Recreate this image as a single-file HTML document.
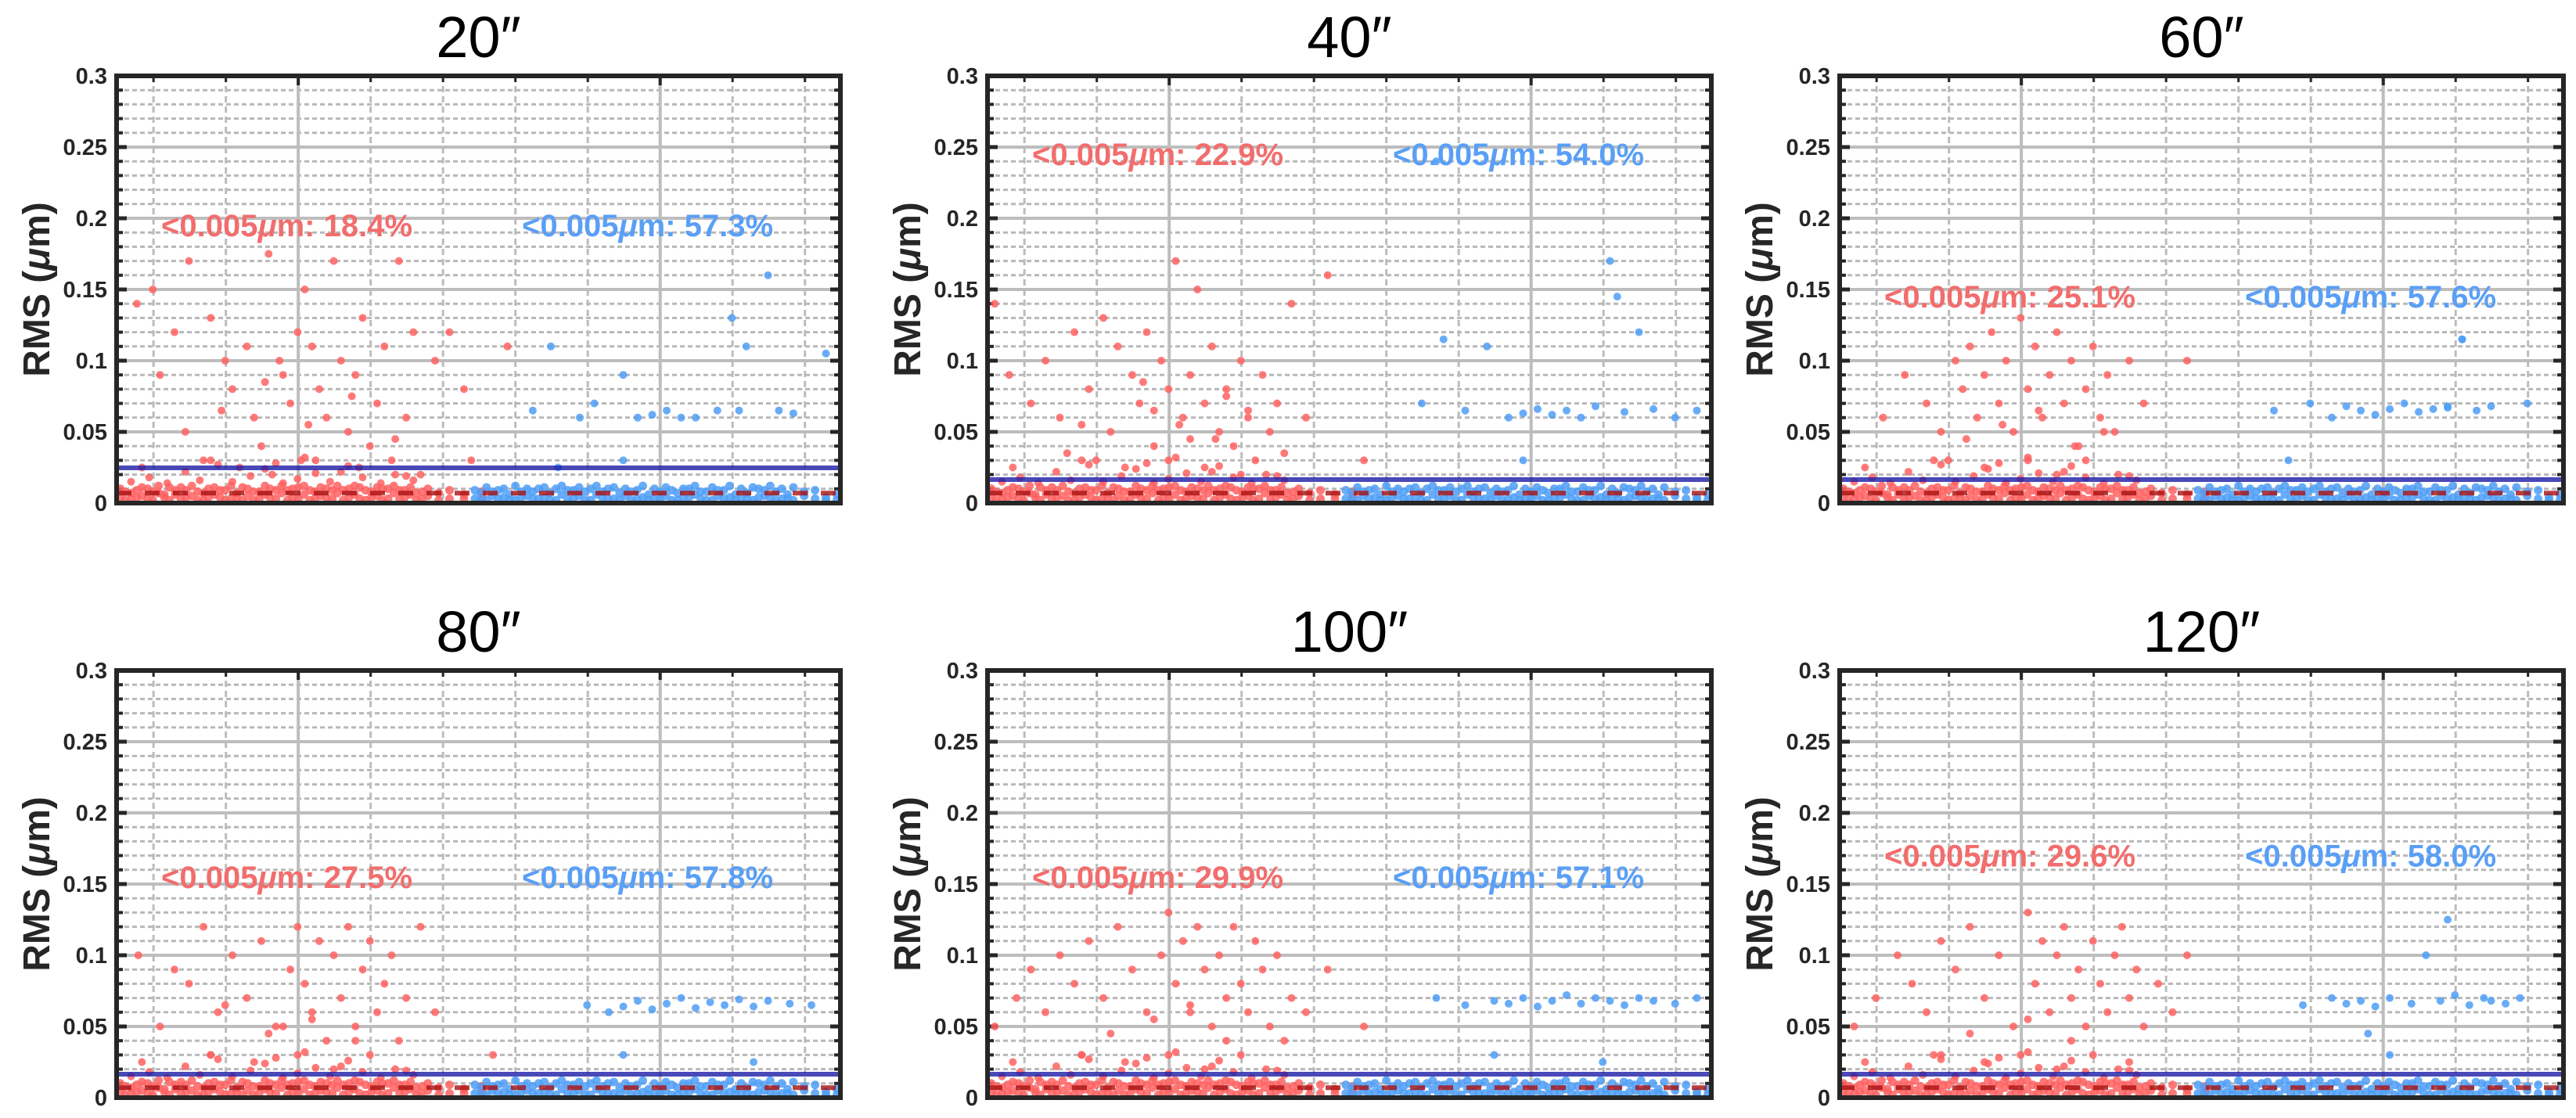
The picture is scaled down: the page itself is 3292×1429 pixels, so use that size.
<!DOCTYPE html>
<html><head><meta charset="utf-8"><style>
html,body{margin:0;padding:0;background:#fff;}
svg{display:block;font-family:"Liberation Sans",Arial,sans-serif;}
</style></head><body>
<svg id="chart" width="3292" height="1429" viewBox="0 0 3292 1429" xmlns="http://www.w3.org/2000/svg"></svg>
<script>
// ---- shared data ----
const panelTitles = ["20\u2033","40\u2033","60\u2033","80\u2033","100\u2033","120\u2033"];
const redPct = ["18.4%","22.9%","25.1%","27.5%","29.9%","29.6%"];
const bluePct = ["57.3%","54.0%","57.6%","57.8%","57.1%","58.0%"];
const annotY = [0.195,0.245,0.145,0.155,0.155,0.17];
const blueLineVal = [0.0247,0.0165,0.0165,0.0165,0.0165,0.0165];
const redLineVal = [0.007,0.007,0.007,0.007,0.007,0.007];
const yTicks = [0,0.05,0.1,0.15,0.2,0.25,0.3];
const yTickLabels = ["0","0.05","0.1","0.15","0.2","0.25","0.3"];
const xMinorGrid = [51,151,251,351,451,551,651,751,851,951];
const xMajorGrid = [251,751];

const redBandX = [5,12,20,28,35,43,50,58,66,73,81,89,96,104,112,120,127,135,143,150,158,166,174,181,189,197,205,212,220,228,236,243,251,259,267,274,282,290,298,305,313,321,329,336,344,352,360,367,375,383,391,398,406,414,422,430,445,460,480,505];
const redBandYa = [0.004,0.008,0.003,0.009,0.005,0.010,0.002,0.007,0.004,0.011,0.006,0.003,0.009,0.005,0.008,0.002,0.010,0.006,0.004,0.009,0.003,0.007,0.011,0.005,0.002,0.008,0.006,0.010,0.003,0.007,0.009,0.004,0.011,0.006,0.002,0.008,0.005,0.010,0.003,0.007,0.009,0.004,0.006,0.011,0.002,0.008,0.005,0.010,0.003,0.007,0.009,0.004,0.006,0.002,0.008,0.005,0.007,0.003,0.006,0.004];
const redBandYb = [0.010,0.002,0.007,0.004,0.011,0.003,0.008,0.012,0.006,0.002,0.009,0.011,0.004,0.012,0.002,0.007,0.004,0.011,0.009,0.002,0.012,0.004,0.002,0.010,0.008,0.003,0.012,0.004,0.009,0.012,0.002,0.010,0.003,0.012,0.009,0.003,0.011,0.004,0.009,0.012,0.002,0.010,0.012,0.003,0.009,0.004,0.011,0.002,0.010,0.012,0.003,0.009,0.011,0.007,0.003,0.010,0.002,0.009,0.003,0.008];
const redLowX = [20,45,70,95,115,140,160,185,205,230,250,275,295,320,340,365,385,410,35,130,220,310,400,260];
const redLowY = [0.015,0.018,0.014,0.022,0.016,0.027,0.015,0.019,0.024,0.014,0.017,0.021,0.015,0.026,0.018,0.014,0.02,0.016,0.025,0.03,0.028,0.022,0.019,0.032];
const blueBandX = [495,503,511,519,527,535,543,551,559,567,575,583,591,599,607,615,623,631,639,647,655,663,671,679,687,695,703,711,719,727,735,743,751,759,767,775,783,791,799,807,815,823,831,839,847,855,863,871,879,887,895,903,911,919,927,935,950,965,980,995];
const blueBandYa = [0.003,0.007,0.002,0.005,0.009,0.004,0.006,0.002,0.008,0.005,0.003,0.010,0.004,0.007,0.002,0.006,0.009,0.003,0.005,0.008,0.002,0.006,0.004,0.010,0.003,0.007,0.005,0.002,0.009,0.004,0.006,0.003,0.008,0.005,0.002,0.007,0.010,0.004,0.006,0.003,0.008,0.002,0.005,0.009,0.004,0.006,0.003,0.007,0.002,0.010,0.005,0.004,0.008,0.003,0.006,0.002,0.005,0.003,0.004,0.002];
const blueBandYb = [0.009,0.002,0.011,0.008,0.003,0.010,0.002,0.012,0.004,0.010,0.008,0.003,0.011,0.002,0.010,0.012,0.003,0.009,0.011,0.002,0.010,0.012,0.008,0.003,0.011,0.002,0.010,0.008,0.003,0.012,0.002,0.010,0.003,0.011,0.009,0.002,0.004,0.010,0.012,0.008,0.002,0.011,0.009,0.003,0.012,0.002,0.010,0.003,0.011,0.004,0.009,0.012,0.002,0.010,0.003,0.011,0.008,0.009,0.002,0.006];

// ---- per-panel outliers ----
const redOutX = [
 [28,50,60,80,95,100,130,150,160,180,190,200,210,225,230,240,250,255,260,270,280,290,300,310,320,330,340,350,360,370,380,390,400,410,420,440,460,480,490,540,120,170,215,275,335,145,205,265,325,385],
 [10,30,60,80,100,120,140,160,170,180,200,210,220,230,240,250,260,270,280,290,300,310,320,330,340,350,360,370,380,390,400,420,440,470,520,150,190,250,300,350,130,230,280,330,110,215,265,315,360,410],
 [60,90,120,140,160,170,180,190,200,210,220,230,240,250,260,270,280,290,300,310,320,330,340,350,360,370,380,400,420,480,150,200,260,300,340,175,225,275,325,365],
 [30,60,80,100,120,140,160,180,200,220,240,250,260,270,280,290,300,310,320,330,340,350,360,370,380,390,400,420,440,520,130,190,250,300,350,210,270,330,150,230],
 [10,40,60,80,100,120,140,160,180,200,220,240,250,260,270,280,290,300,310,320,330,340,350,360,370,380,390,400,420,440,470,520,130,190,250,300,350,410,170,230,280,330],
 [20,50,80,100,120,140,160,180,200,220,240,260,270,280,290,300,310,320,330,340,350,360,370,380,390,400,410,420,440,460,480,140,200,250,300,350,400,180,260,320]
];
const redOutY = [
 [0.14,0.15,0.09,0.12,0.05,0.17,0.13,0.10,0.08,0.11,0.06,0.04,0.175,0.10,0.09,0.07,0.12,0.03,0.15,0.11,0.08,0.06,0.17,0.10,0.05,0.09,0.13,0.04,0.07,0.11,0.03,0.17,0.06,0.12,0.02,0.10,0.12,0.08,0.03,0.11,0.03,0.025,0.02,0.03,0.025,0.065,0.085,0.055,0.075,0.045],
 [0.14,0.09,0.07,0.10,0.06,0.12,0.08,0.13,0.05,0.11,0.09,0.07,0.12,0.04,0.10,0.08,0.17,0.06,0.09,0.15,0.07,0.11,0.05,0.08,0.04,0.10,0.06,0.03,0.09,0.05,0.07,0.14,0.06,0.16,0.03,0.03,0.025,0.03,0.025,0.02,0.055,0.065,0.045,0.075,0.035,0.085,0.055,0.045,0.065,0.035],
 [0.06,0.09,0.07,0.05,0.10,0.08,0.11,0.06,0.09,0.12,0.07,0.10,0.05,0.13,0.08,0.11,0.06,0.09,0.12,0.07,0.10,0.04,0.08,0.11,0.06,0.09,0.05,0.10,0.07,0.10,0.03,0.025,0.03,0.02,0.03,0.045,0.055,0.065,0.04,0.05],
 [0.10,0.05,0.09,0.08,0.12,0.06,0.10,0.07,0.11,0.05,0.09,0.12,0.08,0.06,0.11,0.04,0.10,0.07,0.12,0.05,0.09,0.11,0.06,0.08,0.10,0.04,0.07,0.12,0.06,0.03,0.03,0.025,0.03,0.02,0.03,0.045,0.055,0.04,0.065,0.05],
 [0.05,0.07,0.09,0.06,0.10,0.08,0.11,0.07,0.12,0.09,0.06,0.10,0.13,0.08,0.11,0.06,0.12,0.09,0.05,0.10,0.07,0.12,0.08,0.06,0.11,0.09,0.05,0.10,0.07,0.06,0.09,0.05,0.03,0.025,0.03,0.02,0.03,0.04,0.045,0.055,0.065,0.04],
 [0.05,0.07,0.10,0.08,0.06,0.11,0.09,0.12,0.07,0.10,0.05,0.13,0.08,0.11,0.06,0.10,0.12,0.07,0.09,0.05,0.11,0.08,0.06,0.10,0.12,0.07,0.09,0.05,0.08,0.06,0.10,0.03,0.025,0.03,0.02,0.03,0.025,0.045,0.055,0.04]
];
const blueOutX = [
 [575,600,640,660,700,720,740,760,780,800,830,850,860,870,900,915,935,980,610,700],
 [600,620,660,690,720,740,760,780,800,820,840,860,880,900,920,950,980,630,870,740],
 [600,650,680,700,720,740,760,780,800,820,840,860,880,900,950,620,840,860],
 [650,680,700,720,740,760,780,800,820,840,860,880,900,930,960,700,880],
 [620,660,700,720,740,760,780,800,820,840,860,880,900,920,950,980,700,850],
 [640,680,700,720,740,760,790,810,830,850,870,890,900,920,940,760,840,730]
];
const blueOutY = [
 [0.065,0.11,0.06,0.07,0.09,0.06,0.062,0.065,0.06,0.06,0.065,0.13,0.065,0.11,0.16,0.065,0.063,0.105,0.025,0.03],
 [0.07,0.24,0.065,0.11,0.06,0.063,0.066,0.062,0.065,0.06,0.068,0.17,0.064,0.12,0.066,0.06,0.065,0.115,0.145,0.03],
 [0.065,0.07,0.06,0.068,0.065,0.062,0.066,0.07,0.064,0.066,0.068,0.115,0.065,0.068,0.07,0.03,0.067,0.115],
 [0.065,0.06,0.064,0.068,0.062,0.066,0.07,0.063,0.067,0.065,0.069,0.064,0.068,0.066,0.065,0.03,0.025],
 [0.07,0.065,0.068,0.066,0.07,0.064,0.068,0.072,0.066,0.07,0.068,0.065,0.07,0.068,0.066,0.07,0.03,0.025],
 [0.065,0.07,0.066,0.068,0.064,0.07,0.066,0.1,0.068,0.072,0.065,0.07,0.068,0.066,0.07,0.03,0.125,0.045]
];

// ---- layout ----
const NS="http://www.w3.org/2000/svg";
const svg=document.getElementById('chart');
const colLeft=[149,1262,2351], rowTop=[97,857], PW=925, PH=546, YMAX=0.3, XMAX=1000;
function mk(tag,attrs,parent){const e=document.createElementNS(NS,tag);for(const k in attrs)e.setAttribute(k,attrs[k]);(parent||svg).appendChild(e);return e;}

for(let p=0;p<6;p++){
  const L=colLeft[p%3], T=rowTop[Math.floor(p/3)];
  const sx=v=>L+v/XMAX*PW, sy=v=>T+PH-v/YMAX*PH;
  const g=mk('g',{});
  
  
  for(let i=1;i<30;i++){ if(i%5===0) continue; const v=i*0.01;
    const l=mk('line',{x1:L,x2:L+PW,y1:sy(v),y2:sy(v),stroke:'#b8b8b8','stroke-width':3,'stroke-dasharray':'6 4'},g);
     
    mk('line',{x1:L,x2:L+8,y1:sy(v),y2:sy(v),stroke:'#262626','stroke-width':4},g);
    mk('line',{x1:L+PW-8,x2:L+PW,y1:sy(v),y2:sy(v),stroke:'#262626','stroke-width':4},g);
  }
  xMinorGrid.forEach(v=>{ if(xMajorGrid.includes(v)) return;
    const l=mk('line',{x1:sx(v),x2:sx(v),y1:T,y2:T+PH,stroke:'#bcbcbc','stroke-width':3,'stroke-dasharray':'8 5'},g);
     
    mk('line',{x1:sx(v),x2:sx(v),y1:T,y2:T+8,stroke:'#262626','stroke-width':3},g);
  });
  xMajorGrid.forEach(v=>{
    const l=mk('line',{x1:sx(v),x2:sx(v),y1:T,y2:T+PH,stroke:'#bdbdbd','stroke-width':4},g);
     
    mk('line',{x1:sx(v),x2:sx(v),y1:T,y2:T+12,stroke:'#262626','stroke-width':4},g);
  });
  yTicks.forEach((v,i)=>{
    if(v>0&&v<YMAX){const l=mk('line',{x1:L,x2:L+PW,y1:sy(v),y2:sy(v),stroke:'#bdbdbd','stroke-width':4},g);
       }
    mk('line',{x1:L,x2:L+13,y1:sy(v),y2:sy(v),stroke:'#262626','stroke-width':5},g);
    mk('line',{x1:L+PW-13,x2:L+PW,y1:sy(v),y2:sy(v),stroke:'#262626','stroke-width':5},g);
    const t=mk('text',{x:L-12,y:sy(v)+10,'text-anchor':'end','font-size':29,'font-weight':'bold',fill:'#262626'},g);
    t.textContent=yTickLabels[i];
     
  });
  const dots=(xs,ys,col,r,name)=>xs.forEach((x,i)=>{
    const c=mk('circle',{cx:sx(x),cy:sy(ys[i]),r:r,fill:col,'fill-opacity':0.85},g);
     
  });
  dots(redOutX[p],redOutY[p],'#ff6262',5,'red-point');
  dots(redLowX,redLowY,'#ff6262',5,'red-point');
  dots(redBandX,redBandYa,'#ff6262',5.5,'red-point');
  dots(redBandX,redBandYb,'#ff6262',5.5,'red-point');
  dots(blueOutX[p],blueOutY[p],'#4d9df7',5,'blue-point');
  dots(blueBandX,blueBandYa,'#4d9df7',5.5,'blue-point');
  dots(blueBandX,blueBandYb,'#4d9df7',5.5,'blue-point');
  const bl=mk('line',{x1:L,x2:L+PW,y1:sy(blueLineVal[p]),y2:sy(blueLineVal[p]),stroke:'#1c1ca6','stroke-opacity':0.8,'stroke-width':6},g);
   
  const rl=mk('line',{x1:L,x2:L+PW,y1:sy(redLineVal[p]),y2:sy(redLineVal[p]),stroke:'#a81010','stroke-opacity':0.8,'stroke-width':6,'stroke-dasharray':'19 17'},g);
   
  const box=mk('rect',{x:L,y:T,width:PW,height:PH,fill:'none',stroke:'#262626','stroke-width':6},g);
   
  const ti=mk('text',{x:L+PW/2,y:T-24,'text-anchor':'middle','font-size':74,fill:'#000'},g);
  ti.textContent=panelTitles[p];
   
  const yl=mk('text',{x:0,y:0,'text-anchor':'middle','font-size':48,'font-weight':'bold',fill:'#262626',transform:`translate(${L-86},${T+PH/2}) rotate(-90)`},g);
  yl.innerHTML='RMS (<tspan font-style="italic">\u03bc</tspan>m)';
   
  const ay=sy(annotY[p])+14;
  const ra=mk('text',{x:L+57,y:ay,'font-size':40,'font-weight':'bold',fill:'#f26d6d'},g);
  ra.innerHTML='&lt;0.005<tspan font-style="italic">\u03bc</tspan>m: '+redPct[p];
   
  const ba=mk('text',{x:L+518,y:ay,'font-size':40,'font-weight':'bold',fill:'#5a9ff6'},g);
  ba.innerHTML='&lt;0.005<tspan font-style="italic">\u03bc</tspan>m: '+bluePct[p];
   
}
</script>
</body></html>
